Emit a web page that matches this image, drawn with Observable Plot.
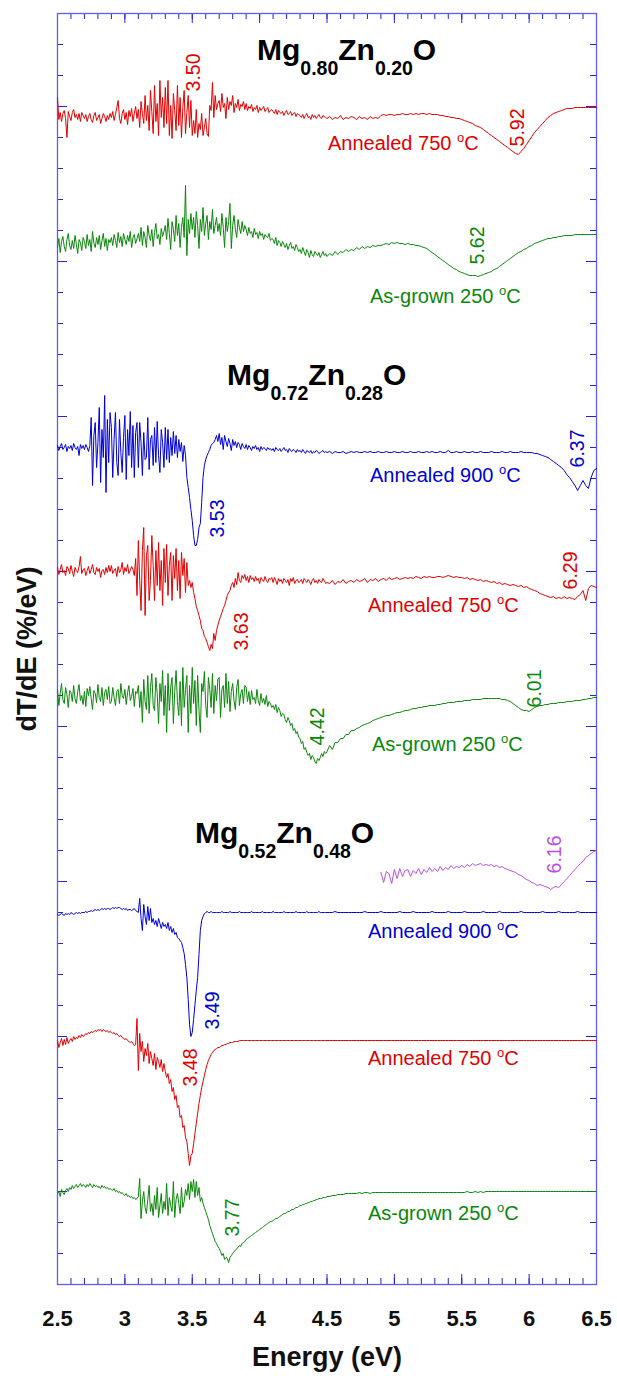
<!DOCTYPE html>
<html>
<head>
<meta charset="utf-8">
<script src="https://cdn.jsdelivr.net/npm/d3@7"></script>
<script src="https://cdn.jsdelivr.net/npm/@observablehq/plot@0.6"></script>
<style>
  body { margin: 0; background: #fff; }
  svg { display: block; }
</style>
</head>
<body>
<div id="chart"></div>
<script>
// Derivative transmittance spectra dT/dE of MgZnO films, stacked with vertical offsets.
// Low-energy part of each spectrum: 2.50–4.49 eV every 0.01 eV.
// High-energy part: 4.50–6.50 eV every 0.02 eV.

// ---- Mg0.80Zn0.20O ----
const mg80Annealed750Low = [
  18,-4,3,-6,2,5,-3,-22,4,-1,-5,3,6,-2,1,-4,2,-6,3,0,
  -3,1,-6,-1,2,-4,-7,0,3,-5,-2,1,-8,-3,2,-1,-6,0,-4,2,
  -2,4,-5,1,8,15,-3,-8,2,6,-4,3,-9,5,-1,7,-6,2,9,-3,
  6,-12,14,2,-8,20,-5,10,-15,25,4,-18,30,-6,12,-20,35,-2,18,-12,
  28,-8,35,-20,10,-23,22,5,-15,30,-10,18,-22,8,25,-18,3,20,-12,15,
  -20,-5,-18,6,-22,-8,-14,2,-20,-12,-3,-18,-21,10,5,33,-2,20,6,12,
  15,4,22,8,12,-3,18,6,14,10,20,3,12,8,16,5,11,9,14,6,
  12,5,9,7,11,4,8,6,10,3,8,5,7,9,4,6,8,3,5,6,
  4,2,6,1,5,3,2,4,0,3,5,1,2,4,0,2,3,-1,2,1,
  0,-2,1,-3,0,2,-2,-1,-4,1,-2,0,-3,-1,1,-2,-3,0,-1,-2
];
const mg80Annealed750High = [
  -3,-1,-4,-2,-3,0,-4,-2,-3,-1,
  -2,-4,-1,-3,-2,-4,-1,-3,-2,-3,
  0,1,0,1,1,0,1,1,2,1,
  1,2,1,2,1,2,2,1,2,1,
  1,1,0,0,-1,-1,-2,-2,-3,-3,
  -4,-5,-6,-7,-8,-10,-11,-12,-14,-16,
  -18,-20,-22,-24,-26,-28,-30,-32,-34,-36,
  -38,-39,-36,-33,-29,-25,-21,-17,-14,-11,
  -8,-5,-2,0,2,3,4,5,6,7,
  7,7,8,8,8,8,8,8,8,8,
  8
];
const mg80AsGrown250Low = [
  -4,5,-9,2,7,-3,-8,4,10,-2,-6,3,-5,8,-1,-10,4,1,-7,6,
  2,-5,9,-2,4,-8,12,0,-4,6,-1,8,-6,3,10,-3,5,-7,4,1,
  6,-2,9,3,-4,11,1,7,-3,10,4,-1,8,2,12,-4,6,9,0,5,
  10,2,16,-2,12,6,-4,18,8,3,14,-3,11,20,5,9,-1,15,7,12,
  18,4,25,10,-6,22,14,2,28,8,20,-4,16,26,6,58,-12,24,10,30,
  14,26,6,32,18,-5,24,12,36,8,20,28,4,22,14,34,10,18,26,12,
  20,8,30,16,-4,26,12,22,40,-5,18,28,14,6,24,16,10,22,12,18,
  14,8,16,10,12,6,15,9,11,5,12,8,10,4,9,7,6,10,3,5,
  4,0,6,-2,3,1,-3,2,-1,-4,0,-6,-2,1,-5,-3,-7,-1,-4,-8,
  -6,-10,-4,-8,-12,-6,-9,-14,-7,-11,-13,-8,-10,-12,-9,-14,-11,-8,-12,-10
];
const mg80AsGrown250High = [
  -13,-10,-12,-8,-11,-8,-9,-6,-8,-6,
  -7,-4,-6,-3,-5,-3,-4,-2,-3,-2,
  -2,-1,0,-1,1,0,1,0,0,-1,
  0,-1,-1,-2,-2,-3,-4,-5,-7,-9,
  -11,-13,-15,-17,-19,-21,-23,-25,-26,-28,
  -29,-30,-31,-32,-32,-32,-33,-32,-31,-30,
  -29,-28,-26,-25,-23,-21,-19,-17,-15,-13,
  -11,-9,-8,-6,-5,-3,-2,0,1,2,
  3,4,5,5,6,6,7,7,8,8,
  8,8,9,9,9,9,9,9,9,9,
  9
];

// ---- Mg0.72Zn0.28O ----
const mg72Annealed900Low = [
  2,-3,1,4,-2,0,3,-4,1,-1,2,-3,4,0,-2,1,-8,3,-1,2,
  -2,3,0,-4,2,30,-38,12,25,-20,5,40,-35,18,-10,52,-45,28,-15,35,
  20,-30,8,35,-15,-28,28,-5,-25,10,32,-32,18,-8,36,-20,22,-30,15,25,
  -20,25,5,-28,15,-12,-10,30,-22,8,12,-18,20,-15,26,-8,-25,18,5,-20,
  20,-12,18,-15,10,-8,16,-6,12,-10,8,-4,5,-14,2,-8,-30,-40,-50,-62,
  -73,-88,-98,-98,-92,-80,-76,-55,-30,-18,-12,-8,-5,-2,2,4,5,8,12,6,
  14,3,10,-2,12,6,1,9,4,-3,8,2,6,0,5,3,-2,4,1,-1,
  3,-2,2,0,-3,1,-1,2,-2,0,-4,1,-2,0,-1,-3,0,-2,-1,-3,
  -1,-4,0,-2,-3,-1,-4,-2,0,-3,-2,-5,-1,-3,-4,-2,-3,-5,-2,-4,
  -3,-5,-2,-4,-6,-3,-4,-5,-3,-6,-4,-5,-3,-4,-6,-5,-4,-3,-5,-4
];
const mg72Annealed900High = [
  -5,-4,-6,-4,-5,-5,-4,-6,-5,-4,
  -5,-4,-5,-5,-4,-5,-4,-5,-5,-4,
  -5,-5,-4,-5,-5,-4,-5,-5,-4,-5,
  -5,-4,-5,-5,-4,-5,-5,-4,-5,-4,
  -5,-5,-4,-5,-5,-3,-5,-5,-4,-5,
  -5,-4,-5,-5,-4,-5,-5,-4,-5,-5,
  -5,-4,-5,-5,-5,-4,-5,-5,-4,-5,
  -5,-5,-4,-5,-5,-5,-5,-6,-6,-7,
  -8,-9,-10,-12,-14,-16,-18,-20,-23,-27,
  -30,-34,-38,-43,-38,-33,-38,-41,-30,-23,
  -21
];
const mg72Annealed750Low = [
  3,-4,1,6,-2,0,-5,4,2,-3,5,-1,-6,3,0,-2,4,14,-3,1,
  2,-5,0,4,-3,1,6,-2,-4,3,-1,2,-7,0,1,-4,3,-2,5,-1,
  5,-3,0,2,-6,4,-2,1,8,-4,3,-1,6,-3,0,4,1,-5,12,-25,
  30,-10,-40,20,43,-45,15,25,-30,-10,35,5,-30,20,-15,28,-20,10,-35,22,
  -12,26,-25,5,18,-30,15,-8,22,-20,10,-28,18,-5,12,-22,8,-15,-10,-17,
  -12,-22,-28,-36,-40,-45,-50,-58,-60,-66,-68,-72,-76,-80,-74,-78,-63,-70,-60,-55,
  -50,-46,-42,-38,-35,-30,-25,-22,-20,-15,-12,-17,-8,-14,-2,-10,-12,-5,-8,-4,
  -10,-6,-12,-5,-9,-7,-11,-6,-10,-8,-13,-7,-9,-11,-6,-10,-12,-8,-9,-7,
  -12,-7,-10,-14,-8,-11,-9,-13,-8,-10,-12,-9,-15,-8,-11,-7,-13,-10,-9,-12,
  -11,-9,-13,-8,-10,-12,-9,-11,-14,-10,-8,-12,-10,-13,-9,-11,-12,-8,-10,-13
];
const mg72Annealed750High = [
  -12,-13,-10,-14,-11,-12,-9,-13,-11,-10,
  -12,-9,-11,-10,-8,-12,-9,-10,-8,-11,
  -9,-8,-10,-7,-9,-8,-7,-9,-8,-7,
  -8,-7,-8,-6,-7,-8,-6,-7,-6,-7,
  -7,-6,-6,-7,-6,-5,-6,-7,-6,-7,
  -7,-8,-7,-9,-8,-9,-10,-9,-11,-10,
  -11,-12,-11,-13,-12,-14,-13,-14,-15,-14,
  -15,-16,-15,-17,-16,-18,-19,-20,-21,-23,
  -24,-25,-26,-27,-26,-28,-27,-28,-26,-28,
  -27,-28,-29,-26,-24,-20,-30,-18,-15,-16,
  -17
];
const mg72AsGrown250Low = [
  6,-10,2,12,-4,-8,8,1,-12,5,3,-6,10,-3,-8,4,11,-5,0,-9,
  4,-11,7,0,9,-3,-14,5,2,-7,11,-2,-6,8,-10,3,6,-4,9,-8,
  -6,8,-2,-10,4,6,-8,12,0,-3,6,-9,3,10,-5,-1,7,-11,4,2,
  10,-12,4,-27,16,-6,-14,20,-18,8,22,-10,-15,18,2,-28,12,-6,25,-20,
  10,-37,22,-15,8,18,-28,4,25,-6,-20,14,-30,28,-12,6,20,-37,10,-18,
  28,-8,15,-30,20,-15,-37,12,4,24,-10,-22,18,6,-12,22,-18,10,-5,16,
  18,-22,6,10,-12,22,-8,14,-16,4,12,-5,-14,8,16,-10,2,6,-8,10,
  8,-6,4,-9,5,-4,-2,-8,6,-5,-10,2,-7,-3,-9,0,-11,-6,-8,-12,
  -10,-14,-9,-17,-12,-15,-21,-18,-19,-24,-27,-22,-25,-30,-28,-35,-33,-38,-36,-42,
  -43,-48,-46,-54,-52,-57,-60,-58,-64,-60,-62,-66,-68,-63,-65,-62,-58,-61,-56,-58
];
const mg72AsGrown250High = [
  -56,-50,-54,-47,-47,-43,-43,-39,-39,-35,
  -35,-33,-32,-30,-29,-28,-27,-25,-24,-23,
  -22,-21,-20,-20,-19,-18,-17,-17,-16,-15,
  -15,-14,-13,-13,-12,-12,-11,-11,-10,-10,
  -10,-9,-9,-8,-8,-7,-7,-7,-6,-6,
  -6,-5,-5,-5,-4,-4,-4,-4,-3,-3,
  -3,-3,-3,-3,-3,-4,-4,-5,-6,-8,
  -10,-12,-14,-15,-15,-16,-14,-12,-11,-10,
  -10,-9,-9,-8,-8,-8,-7,-7,-7,-6,
  -6,-6,-5,-5,-5,-4,-4,-3,-3,-2,
  -2
];

// ---- Mg0.52Zn0.48O ----
// extended high-energy scan, 4.90–6.50 eV every 0.02 eV
const mg52HighEnergy = [
  3,-7,4,2,-8,6,-3,7,-1,5,
  6,-1,5,2,7,1,6,3,8,4,
  7,4,9,5,8,6,10,7,9,8,
  10,8,11,9,12,10,11,12,10,11,
  10,11,9,10,8,9,7,6,5,4,
  3,1,0,-2,-4,-5,-7,-8,-10,-9,
  -10,-11,-12,-14,-12,-11,-12,-9,-6,-3,
  0,3,6,9,12,14,18,20,22,24,
  25
];
const mg52Annealed900Low = [
  0,-1,0,1,0,-1,1,0,1,0,2,1,0,1,2,1,2,1,2,2,
  2,3,2,3,3,4,3,4,5,4,5,4,5,6,5,6,5,6,6,5,
  6,7,6,7,6,7,7,6,5,6,5,6,4,5,5,4,5,6,4,3,
  2,16,-4,-16,10,-2,-10,8,-6,6,-8,-4,-10,-6,-12,-4,-9,-14,-8,-12,
  -10,-14,-8,-16,-12,-18,-14,-20,-18,-23,-24,-26,-28,-33,-39,-50,-63,-85,-110,-122,
  -118,-105,-90,-76,-63,-40,-16,-6,-2,1,2,3,2,2,3,2,2,2,2,2,
  2,2,3,2,2,2,2,2,3,2,2,2,2,2,2,3,2,2,2,2,
  2,2,2,2,3,2,2,2,2,2,2,2,3,2,2,2,2,2,2,2,
  3,2,2,2,2,2,2,2,3,2,2,2,2,2,2,2,2,3,2,2,
  2,2,2,2,2,3,2,2,2,2,2,2,2,2,3,2,2,2,2,2
];
const mg52Annealed900High = [
  2,2,2,3,2,2,2,2,2,2,
  2,2,2,2,3,2,2,2,2,2,
  3,2,2,2,2,2,2,3,2,2,
  2,2,3,2,2,2,2,2,2,3,
  2,2,2,2,2,3,2,2,2,2,
  2,3,2,2,2,2,2,2,3,2,
  2,2,2,2,3,2,2,2,2,2,
  2,2,3,2,2,2,2,2,2,2,
  3,2,2,2,2,2,3,2,2,2,
  2,2,2,3,2,2,2,2,2,2,
  2
];
const mg52Annealed750Low = [
  3,-4,1,5,-2,4,-1,6,0,3,5,2,7,4,6,5,8,6,9,7,
  8,10,9,11,10,12,11,12,13,12,14,13,14,12,14,13,12,13,11,12,
  11,10,11,9,10,8,7,8,6,5,4,5,3,2,1,2,0,-2,-1,25,
  -27,10,-8,2,-18,-5,-12,0,-20,-8,-15,-22,-10,-26,-14,-18,-24,-16,-28,-20,
  -28,-34,-30,-40,-36,-48,-44,-56,-52,-64,-62,-74,-72,-84,-82,-94,-98,-110,-122,-112,
  -110,-100,-90,-80,-70,-60,-52,-44,-38,-32,-26,-21,-17,-14,-11,-9,-7,-6,-5,-4,
  -4,-3,-2,-2,-1,-1,0,0,1,1,1,2,2,2,2,3,3,3,3,3,
  3,3,3,3,3,3,3,3,3,3,3,3,3,3,3,3,3,3,3,3,
  3,3,3,3,3,3,3,3,3,3,3,3,3,3,3,3,3,3,3,3,
  3,3,3,3,3,3,3,3,3,3,3,3,3,3,3,3,3,3,3,3
];
const mg52Annealed750High = [
  3,3,3,3,3,3,3,3,3,3,
  3,3,3,3,3,3,3,3,3,3,
  3,3,3,3,3,3,3,3,3,3,
  3,3,3,3,3,3,3,3,3,3,
  3,3,3,3,3,3,3,3,3,3,
  3,3,3,3,3,3,3,3,3,3,
  3,3,3,3,3,3,3,3,3,3,
  3,3,3,3,3,3,3,3,3,3,
  3,3,3,3,3,3,3,3,3,3,
  3,3,3,3,3,3,3,3,3,3,
  3
];
const mg52AsGrown250Low = [
  0,2,-3,4,1,-1,3,5,2,6,4,8,5,7,9,6,8,10,7,9,
  8,6,9,7,10,8,6,9,7,8,6,7,5,8,6,7,5,6,4,5,
  4,3,5,2,3,1,2,0,1,-1,-2,0,-3,-2,-4,-3,-5,-4,-6,-5,
  -3,15,-25,-8,2,-14,-20,-6,8,-18,-10,-22,-2,-16,6,-24,-12,0,-20,-8,
  -16,10,-22,-4,-12,-18,12,-24,-6,0,-10,-20,6,-14,-8,4,-2,10,-6,12,
  2,14,-4,12,-2,6,-8,-4,-10,-14,-18,-22,-26,-32,-36,-40,-44,-48,-50,-53,
  -55,-58,-62,-60,-66,-64,-65,-69,-64,-62,-60,-58,-57,-55,-54,-52,-53,-50,-49,-48,
  -46,-45,-44,-43,-42,-41,-40,-39,-38,-37,-36,-35,-34,-33,-32,-31,-30,-29,-28,-28,
  -27,-26,-25,-25,-24,-23,-22,-21,-20,-20,-19,-18,-18,-17,-16,-16,-15,-14,-14,-13,
  -12,-12,-11,-11,-10,-10,-9,-9,-8,-8,-7,-7,-6,-6,-5,-5,-5,-4,-4,-4
];
const mg52AsGrown250High = [
  -3,-3,-2,-2,-1,-1,-1,0,0,0,
  0,0,1,0,1,1,0,1,1,1,
  1,1,1,1,1,1,1,1,1,1,
  1,1,1,1,1,1,1,1,1,1,
  1,1,1,1,1,1,1,1,1,1,
  1,1,2,1,1,2,1,2,1,2,
  2,2,2,2,2,2,2,2,2,2,
  2,2,2,2,2,2,2,2,2,2,
  2,2,2,2,2,2,2,2,2,2,
  2,2,2,2,2,2,2,2,2,2,
  2
];

// Vertical offset of each spectrum in the stack
const traceOffset = [1169, 1041, 837, 714, 589, 409, 370, 241, 91];

// Marked transition energies (eV) and which spectrum they belong to
const peakEnergies = [3.50, 5.92, 5.62, 6.37, 3.53, 6.29, 3.63, 6.01, 4.42, 6.16, 3.49, 3.48, 3.77];
const peakTrace    = [0, 0, 1, 2, 2, 3, 3, 4, 4, 5, 6, 7, 8];

// Growth / anneal conditions
const conditionText  = ["Annealed 750", "As-grown 250", "Annealed 900", "Annealed 750", "As-grown 250", "Annealed 900", "Annealed 750", "As-grown 250"];
const conditionTrace = [0, 1, 2, 3, 4, 6, 7, 8];

// Alloy compositions Mg(x)Zn(1-x)O
const compositions = [["0.80", "0.20"], ["0.72", "0.28"], ["0.52", "0.48"]];

const xTickLabels = [2.5, 3, 3.5, 4, 4.5, 5, 5.5, 6, 6.5];

// ---- styling ----
const RED = "#e00000", GREEN = "#0a870a", BLUE = "#0000d2", VIOLET = "#b94fe0";
const traceColor = [RED, GREEN, BLUE, RED, GREEN, VIOLET, BLUE, RED, GREEN];
const FRAME = "#5c5cef", TICK = "#2323d8";
const FONT = "'Liberation Sans', Arial, Helvetica, sans-serif";

// label placement (data coordinates, plus pixel nudges for the rotated peak labels)
const peakLabelY  = [1212, 1157, 1039, 836, 766, 714, 653, 596, 558, 430, 274, 217, 67];
const peakLabelDx = [1, -1, 0, -1.5, 21, 3, 32, 4, 2, 4, 22, 1, 4];
const conditionAt = [[4.511, 1134], [4.823, 981], [4.823, 802], [4.808, 672], [4.838, 533], [4.808, 346], [4.808, 219], [4.808, 64]];
const titleAt     = [[3.984, 1224], [3.762, 899], [3.524, 441]];

// each spectrum as a list of sampled segments
const seg = (start, step, values) => ({start, step, values});
const spectra = [
  [seg(2.5, 0.01, mg80Annealed750Low), seg(4.5, 0.02, mg80Annealed750High)],
  [seg(2.5, 0.01, mg80AsGrown250Low),  seg(4.5, 0.02, mg80AsGrown250High)],
  [seg(2.5, 0.01, mg72Annealed900Low), seg(4.5, 0.02, mg72Annealed900High)],
  [seg(2.5, 0.01, mg72Annealed750Low), seg(4.5, 0.02, mg72Annealed750High)],
  [seg(2.5, 0.01, mg72AsGrown250Low),  seg(4.5, 0.02, mg72AsGrown250High)],
  [seg(4.9, 0.02, mg52HighEnergy)],
  [seg(2.5, 0.01, mg52Annealed900Low), seg(4.5, 0.02, mg52Annealed900High)],
  [seg(2.5, 0.01, mg52Annealed750Low), seg(4.5, 0.02, mg52Annealed750High)],
  [seg(2.5, 0.01, mg52AsGrown250Low),  seg(4.5, 0.02, mg52AsGrown250High)]
];

const spectrumRows = spectra.map((segments, k) =>
  segments.flatMap(s => s.values.map((v, i) => ({energy: s.start + i * s.step, value: traceOffset[k] + v})))
);

const peaks = peakEnergies.map((e, i) => ({
  energy: e, label: e.toFixed(2), y: peakLabelY[i], dx: peakLabelDx[i], color: traceColor[peakTrace[i]]
}));

const xMinor = d3.range(25, 66).map(d => d / 10);
const yTicks = d3.range(0, 1272, 31);
const yMajor = yTicks.filter((d, i) => i % 5 === 3);

const plotW = 617 - 57 - 21, plotH = 1376 - 13 - 92;

const plot = Plot.plot({
  width: 617,
  height: 1376,
  marginLeft: 57,
  marginRight: 21,
  marginTop: 13,
  marginBottom: 92,
  style: {fontFamily: FONT, background: "#fff"},
  x: {domain: [2.5, 6.5], axis: null},
  y: {domain: [0, 1271], axis: null},
  marks: [
    // inward ticks on all four sides
    Plot.tickX(xMinor, {x: d => d, stroke: TICK, insetTop: plotH - 6}),
    Plot.tickX(xTickLabels, {x: d => d, stroke: TICK, insetTop: plotH - 10}),
    Plot.tickX(xMinor, {x: d => d, stroke: TICK, insetBottom: plotH - 6}),
    Plot.tickX(xTickLabels, {x: d => d, stroke: TICK, insetBottom: plotH - 10}),
    Plot.tickY(yTicks, {y: d => d, stroke: TICK, insetRight: plotW - 6}),
    Plot.tickY(yMajor, {y: d => d, stroke: TICK, insetRight: plotW - 10}),
    Plot.tickY(yTicks, {y: d => d, stroke: TICK, insetLeft: plotW - 6}),
    Plot.tickY(yMajor, {y: d => d, stroke: TICK, insetLeft: plotW - 10}),
    Plot.frame({stroke: FRAME, strokeWidth: 1.3}),
    // spectra
    ...spectrumRows.map((rows, k) =>
      Plot.line(rows, {x: "energy", y: "value", stroke: traceColor[k], strokeWidth: 1})
    ),
    // peak energies
    ...peaks.map(p => Plot.text([p], {
      x: "energy", y: "y", dx: p.dx, text: "label", fill: p.color, rotate: -90,
      fontSize: 19.5, fontFamily: FONT
    })),
    // x tick labels and axis titles
    Plot.text(xTickLabels, {
      x: d => d, frameAnchor: "bottom", dy: 34, text: d => String(d),
      textAnchor: "middle", lineAnchor: "middle",
      fontSize: 22, fontWeight: "bold", fill: "#111"
    }),
    Plot.text(["Energy (eV)"], {
      frameAnchor: "bottom", dy: 73, textAnchor: "middle", lineAnchor: "middle",
      fontSize: 27, fontWeight: "bold", fill: "#111"
    }),
    Plot.text(["dT/dE (%/eV)"], {
      frameAnchor: "left", dx: -30, rotate: -90, textAnchor: "middle", lineAnchor: "middle",
      fontSize: 27, fontWeight: "bold", fill: "#111"
    })
  ]
});

// Rich-text annotations (subscripts and the degree sign) positioned with the plot's scales
const sx = plot.scale("x"), sy = plot.scale("y");
const svg = d3.select(plot);

compositions.forEach(([mg, zn], i) => {
  const [e, v] = titleAt[i];
  const t = svg.append("text")
    .attr("x", sx.apply(e)).attr("y", sy.apply(v)).attr("text-anchor", "start")
    .attr("font-family", FONT).attr("font-weight", "bold").attr("font-size", 30).attr("fill", "#000");
  t.append("tspan").text("Mg");
  t.append("tspan").attr("font-size", 19.5).attr("dy", 15).text(mg);
  t.append("tspan").attr("dy", -15).text("Zn");
  t.append("tspan").attr("font-size", 19.5).attr("dy", 15).text(zn);
  t.append("tspan").attr("dy", -15).text("O");
});

conditionText.forEach((txt, i) => {
  const [e, v] = conditionAt[i];
  const t = svg.append("text")
    .attr("x", sx.apply(e)).attr("y", sy.apply(v)).attr("text-anchor", "start")
    .attr("font-family", FONT).attr("font-size", 20).attr("fill", traceColor[conditionTrace[i]]);
  t.append("tspan").text(txt + " ");
  t.append("tspan").attr("font-size", 13).attr("dy", -8).text("o");
  t.append("tspan").attr("dy", 8).text("C");
});

document.getElementById("chart").appendChild(plot);
</script>
</body>
</html>
